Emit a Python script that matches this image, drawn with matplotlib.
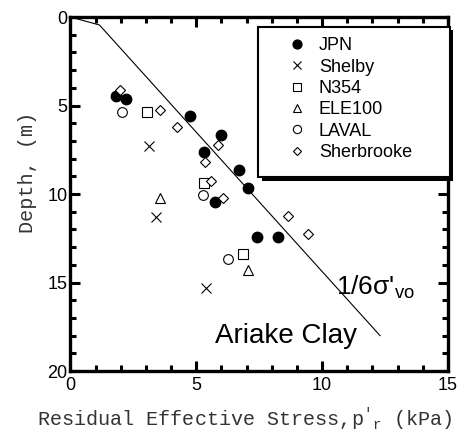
import numpy as np
import matplotlib
matplotlib.use("Agg")
import matplotlib.pyplot as plt
from matplotlib.patches import Rectangle
from matplotlib.ticker import MultipleLocator

plt.rcParams["font.family"] = ["Liberation Sans", "DejaVu Sans"]

# data (x = residual stress in kPa, y = depth in m)
jpn_x = [1.8, 2.2, 4.75, 6.0, 5.3, 6.7, 7.05, 5.75, 7.4, 8.25]
jpn_y = [4.45, 4.65, 5.6, 6.65, 7.6, 8.65, 9.65, 10.45, 12.45, 12.45]
shelby_x = [3.1, 3.4, 5.4]
shelby_y = [7.3, 11.3, 15.3]
n354_x = [3.05, 5.3, 6.85]
n354_y = [5.35, 9.35, 13.4]
ele_x = [3.55, 7.05]
ele_y = [10.2, 14.3]
laval_x = [2.05, 5.25, 6.25]
laval_y = [5.35, 10.05, 13.7]
sher_x = [1.95, 3.55, 4.25, 5.85, 5.35, 5.6, 6.05, 8.65, 9.45]
sher_y = [4.15, 5.25, 6.2, 7.25, 8.2, 9.25, 10.2, 11.25, 12.25]

# 1/6 sigma'vo reference line
ref_x = [0.0, 1.15, 12.3]
ref_y = [0.0, 0.45, 18.0]

fig = plt.figure(figsize=(4.65, 4.32), dpi=100)
ax = fig.add_axes([0.1516, 0.1412, 0.8118, 0.8194])

ax.plot(ref_x, ref_y, color="black", lw=0.8, zorder=1)

ax.plot(jpn_x, jpn_y, "o", ms=7.5, mfc="black", mec="black", label="JPN", zorder=3)
ax.plot(shelby_x, shelby_y, "x", ms=7, mec="black", mew=0.8, label="Shelby", zorder=3)
ax.plot(n354_x, n354_y, "s", ms=6.5, mfc="white", mec="black", mew=0.8, label="N354", zorder=3)
ax.plot(ele_x, ele_y, "^", ms=7, mfc="white", mec="black", mew=0.8, label="ELE100", zorder=3)
ax.plot(laval_x, laval_y, "o", ms=7, mfc="white", mec="black", mew=0.8, label="LAVAL", zorder=3)
ax.plot(sher_x, sher_y, "D", ms=5, mfc="white", mec="black", mew=0.8, label="Sherbrooke", zorder=3)

ax.set_xlim(0, 15)
ax.set_ylim(20, 0)
ax.xaxis.set_major_locator(MultipleLocator(5))
ax.xaxis.set_minor_locator(MultipleLocator(1))
ax.yaxis.set_major_locator(MultipleLocator(5))
ax.yaxis.set_minor_locator(MultipleLocator(1))
ax.tick_params(which="both", direction="in", top=True, right=True, width=2.2, labelsize=13, pad=2)
ax.tick_params(axis="x", pad=4)
ax.tick_params(which="major", length=7.5)
ax.tick_params(which="minor", length=4.5)
for s in ax.spines.values():
    s.set_linewidth(2.4)

ax.set_xlabel("Residual Effective Stress,$\\mathregular{p'_r}$ (kPa)",
              family="Liberation Mono", fontsize=14.5, color="#333333")
ax.set_ylabel("Depth, (m)", family="Liberation Mono", fontsize=14.5, color="#333333")
ax.xaxis.set_label_coords(0.462, -0.098)
ax.yaxis.set_label_coords(-0.115, 0.56)
ax.yaxis.label.set_va("center")

ax.text(10.55, 15.7, "1/6σ'$_\\mathregular{vo}$", fontsize=19)
ax.text(5.74, 18.4, "Ariake Clay", fontsize=20)

# legend frame with a solid drop shadow
bx0, bx1, by0, by1 = 0.497, 1.005, 0.548, 0.972
ax.add_patch(Rectangle((bx0 + 0.009, by0 - 0.01), bx1 - bx0, by1 - by0, transform=ax.transAxes,
                       facecolor="black", edgecolor="black", lw=0, clip_on=False, zorder=4))
ax.add_patch(Rectangle((bx0, by0), bx1 - bx0, by1 - by0, transform=ax.transAxes,
                       facecolor="white", edgecolor="black", lw=1.5, clip_on=False, zorder=5))

leg = ax.legend(loc="upper left", bbox_to_anchor=(0.55, 0.966), borderaxespad=0,
                fontsize=13, frameon=False, labelspacing=0.24, handletextpad=0.6,
                borderpad=0.45, handlelength=1.2, markerscale=0.85)
leg.set_zorder(6)

fig.savefig("out.png", dpi=100)
